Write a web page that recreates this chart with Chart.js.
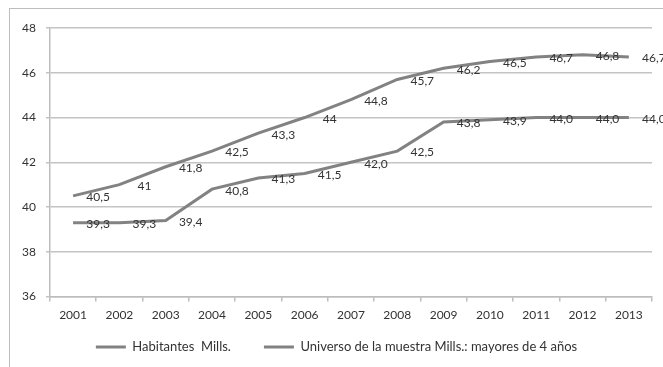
<!DOCTYPE html>
<html><head><meta charset="utf-8">
<script src="https://cdn.jsdelivr.net/npm/chart.js@4/dist/chart.umd.min.js"></script>
<style>
html,body{margin:0;padding:0;background:#fff;width:663px;height:367px;overflow:hidden}
#frame{position:absolute;left:9px;top:8px;width:720px;height:420px;border:1px solid #bdbdbd}
#wrap{position:absolute;left:0;top:0;width:663px;height:367px}
</style></head>
<body>
<div id="frame"></div>
<div id="wrap"><canvas id="c" width="663" height="367"></canvas></div>
<script>
const years = ['2001','2002','2003','2004','2005','2006','2007','2008','2009','2010','2011','2012','2013'];
const habitantes = [40.5, 41, 41.8, 42.5, 43.3, 44, 44.8, 45.7, 46.2, 46.5, 46.7, 46.8, 46.7];
const habitantesLabels = ['40,5','41','41,8','42,5','43,3','44','44,8','45,7','46,2','46,5','46,7','46,8','46,7'];
const universo = [39.3, 39.3, 39.4, 40.8, 41.3, 41.5, 42.0, 42.5, 43.8, 43.9, 44.0, 44.0, 44.0];
const universoLabels = ['39,3','39,3','39,4','40,8','41,3','41,5','42,0','42,5','43,8','43,9','44,0','44,0','44,0'];
const seriesNames = ['Habitantes  Mills.', 'Universo de la muestra Mills.: mayores de 4 años'];

const LINE = '#828282';
const TEXT = '#333333';
const FONT = 'Lato';
const LEGEND_H = 35;

const pointLabels = {
  id: 'pointLabels',
  beforeLayout(chart) {
    const lg = chart.legend;
    if (lg && !lg._fitPatched) {
      const fit = lg.fit;
      lg.fit = function () { fit.call(this); this.height = LEGEND_H; };
      lg._fitPatched = true;
    }
  },
  afterLayout(chart) {
    const lg = chart.legend;
    if (lg) { lg.left += 9; lg.top -= 20.5; }
  },
  afterDatasetsDraw(chart) {
    const ctx = chart.ctx;
    ctx.save();
    ctx.font = '12px ' + FONT;
    ctx.fillStyle = TEXT;
    ctx.textAlign = 'center';
    ctx.textBaseline = 'middle';
    chart.data.datasets.forEach((ds, i) => {
      const meta = chart.getDatasetMeta(i);
      meta.data.forEach((pt, j) => {
        ctx.fillText(ds.valueLabels[j], pt.x + 25, pt.y + 1.5);
      });
    });
    ctx.restore();
  }
};

function build() {
new Chart(document.getElementById('c'), {
  type: 'line',
  data: {
    labels: years,
    datasets: [
      {label: seriesNames[0], data: habitantes, valueLabels: habitantesLabels, borderColor: LINE, backgroundColor: LINE, borderWidth: 3, pointRadius: 0, tension: 0},
      {label: seriesNames[1], data: universo, valueLabels: universoLabels, borderColor: LINE, backgroundColor: LINE, borderWidth: 3, pointRadius: 0, tension: 0}
    ]
  },
  options: {
    responsive: false,
    animation: false,
    devicePixelRatio: 1,
    layout: {padding: {left: 12, right: 11, top: 28, bottom: 4}},
    plugins: {
      tooltip: {enabled: false},
      legend: {
        position: 'bottom',
        labels: {
          color: TEXT,
          font: {family: FONT, size: 13},
          boxWidth: 30,
          boxHeight: 3,
          padding: 33,
          generateLabels(chart) {
            return chart.data.datasets.map((ds, i) => ({
              text: ds.label, fillStyle: LINE, strokeStyle: LINE, lineWidth: 0, datasetIndex: i, fontColor: TEXT
            }));
          }
        }
      }
    },
    scales: {
      x: {
        offset: true,
        grid: {display: true, drawOnChartArea: false, drawTicks: true, tickLength: 5, color: '#bdbdbd', lineWidth: 1.5, offset: true},
        border: {display: true, color: '#bdbdbd', width: 1.5},
        ticks: {color: TEXT, font: {family: FONT, size: 12}, padding: 6, maxRotation: 0, autoSkip: false}
      },
      y: {
        min: 36, max: 48,
        grid: {color: '#c4c4c4', lineWidth: 1.5, tickLength: 4},
        border: {display: true, color: '#bdbdbd', width: 1.5},
        ticks: {stepSize: 2, color: TEXT, font: {family: FONT, size: 12}, padding: 10}
      }
    }
  },
  plugins: [pointLabels]
});
}
if (document.fonts && document.fonts.load) {
  Promise.all([document.fonts.load('12px Lato'), document.fonts.load('13px Lato')]).then(build, build);
} else { build(); }
</script>
</body></html>
